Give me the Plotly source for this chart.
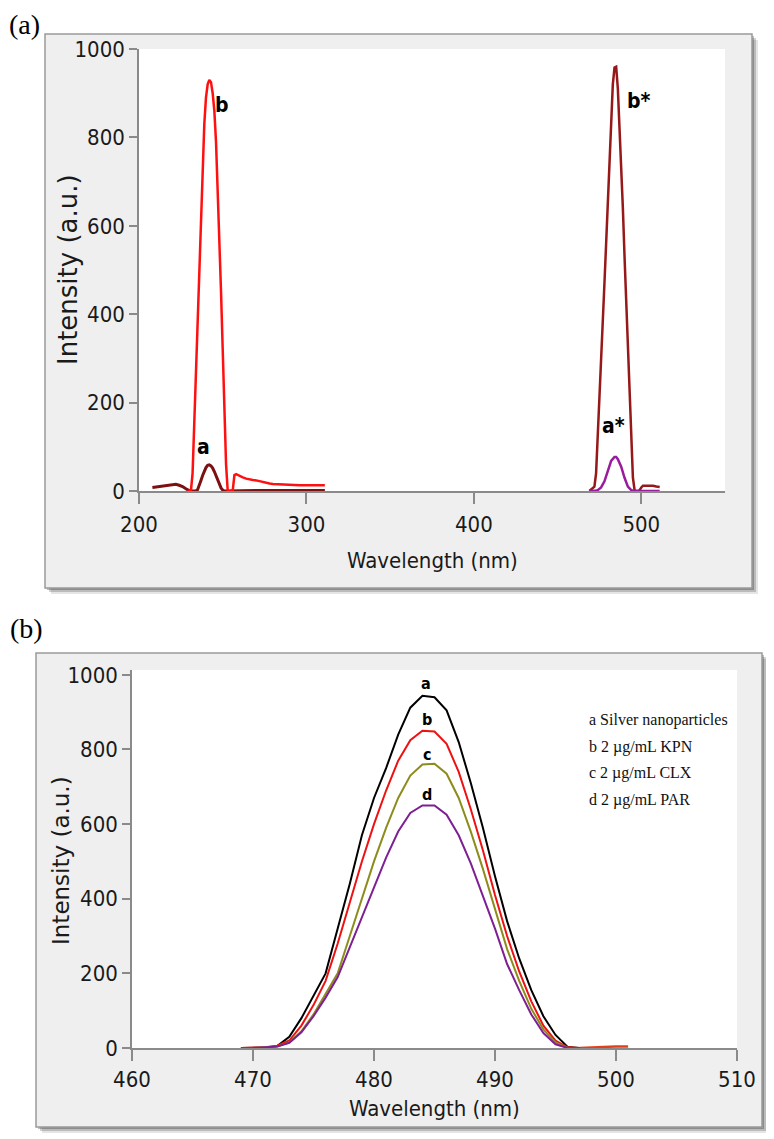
import plotly.graph_objects as go

# ---------------- Panel (a) data ----------------
a_x = [208, 210, 212, 214, 216, 218, 220, 222, 224, 226, 228, 230, 232, 234, 235, 236, 237, 238, 239,
       240, 241, 242, 243, 244, 245, 246, 247, 248, 249, 250, 251, 252, 260, 270, 280, 290, 300, 311]
a_y = [8, 9, 9, 10, 11, 12, 14, 15, 13, 10, 5, 1, 0, 0, 3, 12, 24, 35, 45,
       53, 58, 59, 57, 52, 44, 35, 25, 15, 7, 2, 0, 0, 1, 1, 1, 1, 1, 1]

b_x = [229, 231, 232, 233, 234, 235, 236, 237, 238, 239, 240, 241, 242, 243, 244, 245, 246, 247, 248,
       249, 250, 251, 252, 253, 255, 256, 257, 258, 259, 260, 262, 264, 266, 268, 270, 272, 274, 276,
       278, 280, 284, 288, 292, 296, 300, 304, 308, 311]
b_y = [0, 0, 40, 150, 260, 380, 490, 600, 720, 830, 890, 920, 930, 925, 900, 860, 790, 690, 580,
       450, 320, 190, 60, 0, 0, 2, 36, 38, 36, 34, 31, 28, 26, 25, 24, 22, 20, 19,
       17, 16, 15, 14, 14, 13, 13, 13, 13, 13]

bs_x = [469, 470, 471, 472, 473, 474, 475, 476, 477, 478, 479, 480, 481, 482, 483, 484, 485, 486, 487,
        488, 489, 490, 491, 492, 493, 494, 495, 496, 497, 498, 499, 500, 501, 503, 505, 507, 509, 511]
bs_y = [0, 3, 6, 10, 40, 120, 200, 280, 370, 470, 560, 660, 750, 850, 920, 958, 960, 910, 830,
        740, 640, 530, 420, 310, 200, 100, 30, 2, 0, 0, 2, 8, 12, 12, 12, 12, 10, 9]

as_x = [469, 472, 473, 474, 476, 478, 480, 482, 484, 485, 486, 488, 490, 492, 494, 496, 500, 505, 511]
as_y = [0, 0, 1, 2, 8, 22, 45, 68, 77, 77, 72, 55, 30, 10, 2, 0, 0, 0, 0]

# ---------------- Panel (b) data ----------------
wl_b = [469, 470, 471, 472, 473, 474, 475, 476, 477, 478, 479, 480, 481, 482, 483, 484, 485, 486, 487,
        488, 489, 490, 491, 492, 493, 494, 495, 496, 497]
agnp = [0, 0, 1, 5, 30, 80, 140, 200, 320, 440, 570, 670, 750, 840, 912, 944, 940, 905, 820,
        710, 590, 460, 340, 240, 155, 85, 35, 3, 0]
kpn = [0, 1, 2, 6, 20, 60, 115, 180, 280, 390, 500, 600, 690, 770, 825, 850, 848, 815, 740,
       640, 530, 410, 300, 205, 125, 60, 20, 2, 0]
kpn_tail_x = [497, 498, 499, 500, 501]
kpn_tail_y = [0, 2, 3, 4, 4]
wl_cd = [470, 471, 472, 473, 474, 475, 476, 477, 478, 479, 480, 481, 482, 483, 484, 485, 486, 487,
         488, 489, 490, 491, 492, 493, 494, 495, 496]
clx = [0, 1, 4, 15, 45, 90, 145, 200, 300, 400, 500, 590, 670, 730, 760, 762, 735, 670,
       580, 480, 370, 265, 180, 105, 50, 15, 0]
par = [0, 1, 4, 14, 42, 85, 135, 190, 270, 350, 430, 510, 580, 630, 650, 650, 625, 570,
       495, 410, 320, 225, 155, 90, 40, 10, 0]

legend_lines = ["a Silver nanoparticles", "b 2 \u00b5g/mL KPN", "c 2 \u00b5g/mL CLX", "d 2 \u00b5g/mL PAR"]

# ---------------- figure ----------------
W, H = 774, 1139
OFF = 8  # page body margin offset
NARROW = "Liberation Sans Narrow, Arial Narrow, DejaVu Sans Condensed, sans-serif"
WIDE = "DejaVu Sans, Verdana, sans-serif"
SERIF = "Liberation Serif, Times New Roman, serif"


def px(x):
    return (x - OFF) / W


def py(y):
    return 1 - (y - OFF) / H


fig = go.Figure()

# panel a traces
fig.add_trace(go.Scatter(x=a_x, y=a_y, mode="lines", line=dict(color="#7d1010", width=3), xaxis="x", yaxis="y"))
fig.add_trace(go.Scatter(x=b_x, y=b_y, mode="lines", line=dict(color="#ff1010", width=2.5), xaxis="x", yaxis="y"))
fig.add_trace(go.Scatter(x=bs_x, y=bs_y, mode="lines", line=dict(color="#961818", width=2.5), xaxis="x", yaxis="y"))
fig.add_trace(go.Scatter(x=as_x, y=as_y, mode="lines", line=dict(color="#981c9c", width=2.5), xaxis="x", yaxis="y"))

# panel b traces
fig.add_trace(go.Scatter(x=kpn_tail_x, y=kpn_tail_y, mode="lines", line=dict(color="#e2401a", width=2.5), xaxis="x2", yaxis="y2"))
fig.add_trace(go.Scatter(x=wl_b, y=agnp, mode="lines", line=dict(color="#000000", width=2), xaxis="x2", yaxis="y2"))
fig.add_trace(go.Scatter(x=wl_b, y=kpn, mode="lines", line=dict(color="#ee1111", width=2), xaxis="x2", yaxis="y2"))
fig.add_trace(go.Scatter(x=wl_cd, y=clx, mode="lines", line=dict(color="#8c8c1c", width=2), xaxis="x2", yaxis="y2"))
fig.add_trace(go.Scatter(x=wl_cd, y=par, mode="lines", line=dict(color="#7e1f92", width=2), xaxis="x2", yaxis="y2"))

tickfont = dict(family=NARROW, size=22, color="#1a1a1a")
axcommon = dict(showgrid=False, zeroline=False, showline=True, linecolor="#8a8a8a", linewidth=1.5,
                ticks="outside", tickcolor="#8a8a8a", tickwidth=1.5, tickfont=tickfont, fixedrange=True,
                automargin=False)

fig.update_layout(
    template="none",
    width=W, height=H, autosize=False,
    margin=dict(l=0, r=0, t=0, b=0, pad=0),
    paper_bgcolor="white",
    plot_bgcolor="rgba(0,0,0,0)",
    showlegend=False,
    xaxis=dict(domain=[px(139), px(725)], range=[200, 550], tickvals=[200, 300, 400, 500],
               anchor="y", ticklen=11, ticklabelstandoff=2, **axcommon),
    yaxis=dict(domain=[py(491), py(49)], range=[0, 1000], dtick=200, anchor="x", ticklen=8, **axcommon),
    xaxis2=dict(domain=[px(132), px(737)], range=[460, 510], dtick=10,
                anchor="y2", ticklen=11, ticklabelstandoff=0, **axcommon),
    yaxis2=dict(domain=[py(1048), py(670)], range=[0, 1013], tickvals=[0, 200, 400, 600, 800, 1000],
                anchor="x2", ticklen=8, **axcommon),
)

shapes = []
for (x0, y0, x1, y1, wx0, wy0, wx1, wy1) in [
    (45, 34, 752, 588, 139, 49, 725, 491),
    (36, 653, 762, 1127, 132, 670, 737, 1048),
]:
    # soft shadow
    for off, alpha in [(6, 0.10), (4, 0.18), (2, 0.25)]:
        shapes.append(dict(type="rect", xref="paper", yref="paper", layer="below",
                           x0=px(x0 + off), x1=px(x1 + off), y0=py(y1 + off), y1=py(y0 + off),
                           fillcolor=f"rgba(0,0,0,{alpha})", line=dict(width=0)))
    shapes.append(dict(type="rect", xref="paper", yref="paper", layer="below",
                       x0=px(x0), x1=px(x1), y0=py(y1), y1=py(y0),
                       fillcolor="#efefef", line=dict(color="#9a9a9a", width=1.5)))
    shapes.append(dict(type="rect", xref="paper", yref="paper", layer="below",
                       x0=px(wx0), x1=px(wx1), y0=py(wy1), y1=py(wy0),
                       fillcolor="white", line=dict(width=0)))
fig.update_layout(shapes=shapes)

ann = []
# panel labels
ann.append(dict(text="(a)", x=px(8), y=py(8), xref="paper", yref="paper", xanchor="left", yanchor="top",
                showarrow=False, borderpad=0, font=dict(family=SERIF, size=28, color="black")))
ann.append(dict(text="(b)", x=px(8), y=py(628), xref="paper", yref="paper", xanchor="left", yanchor="middle",
                showarrow=False, font=dict(family=SERIF, size=28, color="black")))
# axis titles
for (cx, cy, fs) in [(68, 270, 26), (61, 861, 23)]:
    ann.append(dict(text="Intensity (a.u.)", x=px(cx), y=py(cy), xref="paper", yref="paper",
                    xanchor="center", yanchor="middle", textangle=-90, showarrow=False,
                    font=dict(family=WIDE, size=fs, color="#1a1a1a")))
for (cx, cy) in [(432, 560), (434, 1108)]:
    ann.append(dict(text="Wavelength (nm)", x=px(cx), y=py(cy), xref="paper", yref="paper",
                    xanchor="center", yanchor="middle", showarrow=False,
                    font=dict(family=NARROW, size=22, color="#1a1a1a")))
# curve labels panel a
for (t, cx, cy) in [("b", 222, 105), ("b*", 639, 101), ("a", 203, 447), ("a*", 613, 426)]:
    ann.append(dict(text=f"<b>{t}</b>", x=px(cx), y=py(cy), xref="paper", yref="paper",
                    xanchor="center", yanchor="middle", showarrow=False,
                    font=dict(family=NARROW, size=21, color="black")))
# curve labels panel b
for (t, cx, cy) in [("a", 426, 683), ("b", 427, 719), ("c", 427, 754), ("d", 427, 794)]:
    ann.append(dict(text=f"<b>{t}</b>", x=px(cx), y=py(cy), xref="paper", yref="paper",
                    xanchor="center", yanchor="middle", showarrow=False,
                    font=dict(family=NARROW, size=16, color="black")))
# legend text panel b
for i, t in enumerate(legend_lines):
    ann.append(dict(text=t, x=px(587), y=py(720 + i * 26.7), xref="paper", yref="paper",
                    xanchor="left", yanchor="middle", showarrow=False,
                    font=dict(family=SERIF, size=16, color="#111111")))
fig.update_layout(annotations=ann)

fig.write_html("out.html")
